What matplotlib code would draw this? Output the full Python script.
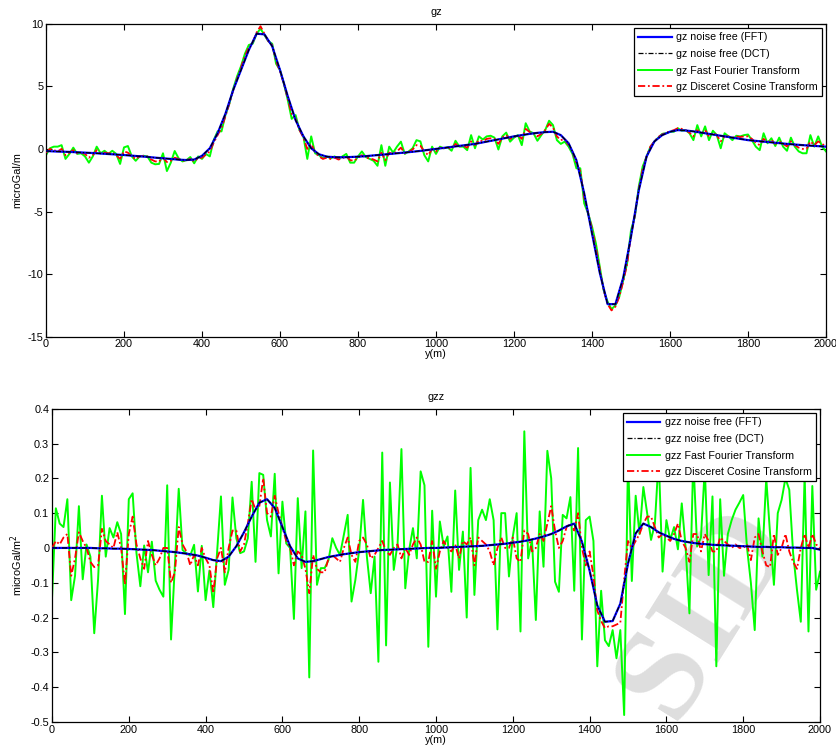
import numpy as np
import matplotlib
matplotlib.use("Agg")
import matplotlib.pyplot as plt
from matplotlib.lines import Line2D

plt.rcParams['font.family'] = ['Liberation Sans', 'DejaVu Sans']
plt.rcParams['axes.unicode_minus'] = False

# ---------------- data ----------------
y_fine = list(range(0, 2001, 10))     # noisy series sampling (m)
y_coarse = list(range(0, 2001, 20))   # noise-free series sampling (m)

gz_free = [
    -0.17, -0.2, -0.22, -0.24, -0.27, -0.3, -0.33, -0.37, -0.41, -0.45,
    -0.49, -0.54, -0.59, -0.64, -0.7, -0.75, -0.8, -0.86, -0.89, -0.85,
    -0.55, 0.05, 1.25, 2.8, 4.7, 6.3, 7.9, 9.2, 9.15, 8.2,
    6.3, 4.2, 2.3, 1.0, 0.05, -0.43, -0.62, -0.66, -0.67, -0.65,
    -0.62, -0.58, -0.52, -0.47, -0.41, -0.35, -0.29, -0.23, -0.16, -0.08,
    0.0, 0.08, 0.16, 0.24, 0.32, 0.4, 0.52, 0.64, 0.76, 0.88,
    1.0, 1.1, 1.2, 1.28, 1.34, 1.37, 1.1, 0.45, -0.9, -3.55,
    -6.75, -9.9, -12.4, -12.4, -10.3, -7.0, -3.3, -0.6, 0.6, 1.1,
    1.37, 1.5, 1.47, 1.4, 1.3, 1.2, 1.1, 1.0, 0.9, 0.8,
    0.7, 0.64, 0.58, 0.52, 0.46, 0.4, 0.35, 0.3, 0.26, 0.22,
    0.18]

gz_fft = [
    -0.5, 0.05, 0.18, 0.18, 0.3, -0.8, -0.4, 0.1, -0.4, -0.35,
    -0.6, -1.1, -0.6, 0.18, -0.35, -0.15, -0.4, -0.15, -0.4, -1.2,
    0.12, 0.23, -0.6, -0.95, -0.6, -0.55, -0.6, -1.1, -1.23, -1.2,
    -0.35, -1.77, -1.1, -0.17, -0.75, -1.0, -0.9, -0.65, -1.15, -0.6,
    -0.8, -0.4, -0.6, 0.7, 1.4, 1.4, 2.7, 3.6, 4.8, 5.8,
    6.6, 7.6, 8.3, 8.4, 9.2, 9.6, 9.1, 8.6, 8.4, 6.8,
    6.3, 5.2, 3.9, 2.4, 2.7, 1.5, 1.0, -0.8, 1.0, -0.35,
    -0.5, -0.75, -0.6, -0.75, -0.6, -0.8, -0.6, -0.4, -1.1, -1.1,
    -0.6, -0.2, -0.65, -0.8, -0.95, -1.35, 0.3, -1.35, 0.18, -0.3,
    0.18, 0.58, -0.4, -0.2, 0.05, 0.7, 0.6, -0.5, -1.0, 0.18,
    -0.4, 0.18, 0.05, 0.12, -0.15, 0.65, 0.18, 0.18, -0.1, 1.1,
    0.05, 1.0, 0.75, 1.0, 1.05, 0.9, -0.05, 1.0, 1.3, 0.58,
    0.9, 1.1, 0.3, 2.05, 1.4, 1.25, 0.65, 1.1, 1.5, 2.25,
    1.9, 0.7, 0.4, 0.58, 0.18, -0.4, -1.55, -1.55, -4.35, -5.15,
    -6.2, -7.55, -9.4, -11.3, -12.2, -12.8, -12.5, -11.8, -10.5, -9.15,
    -6.5, -5.4, -3.0, -1.4, -0.6, 0.18, 0.58, 0.9, 1.2, 1.25,
    1.37, 1.37, 1.65, 1.45, 1.5, 1.25, 0.7, 1.9, 1.0, 1.8,
    0.7, 1.45, 1.1, 0.05, 1.25, 1.0, 0.7, 1.05, 1.0, 1.1,
    1.15, 0.7, 0.18, -0.1, 1.25, 0.45, 0.85, 0.23, 0.9, 0.18,
    -0.15, 0.9, 0.18, -0.2, -0.35, -0.35, 1.1, 0.18, 1.0, 0.18,
    -0.2]

gz_dct = [
    -0.3, 0.0, -0.1, -0.2, 0.0, -0.5, -0.3, -0.1, -0.35, -0.3,
    -0.4, -0.7, -0.5, -0.1, -0.35, -0.3, -0.35, -0.3, -0.5, -0.8,
    -0.2, -0.3, -0.6, -0.8, -0.6, -0.55, -0.6, -0.85, -1.0, -1.0,
    -0.7, -1.05, -0.95, -0.7, -0.8, -0.95, -0.9, -0.8, -1.0, -0.75,
    -0.7, -0.45, -0.2, 0.5, 1.1, 1.7, 2.6, 3.6, 4.7, 5.6,
    6.5, 7.4, 8.1, 8.5, 9.3, 9.8, 9.2, 8.6, 8.3, 7.0,
    6.2, 5.2, 4.0, 2.8, 2.4, 1.5, 0.9, 0.0, 0.4, -0.3,
    -0.6, -0.8, -0.7, -0.8, -0.7, -0.85, -0.75, -0.6, -0.9, -0.95,
    -0.7, -0.5, -0.7, -0.75, -0.85, -1.0, -0.3, -0.9, -0.3, -0.4,
    -0.2, 0.1, -0.35, -0.25, -0.05, 0.3, 0.25, -0.2, -0.5, 0.0,
    -0.2, 0.1, 0.05, 0.1, 0.0, 0.4, 0.2, 0.25, 0.1, 0.6,
    0.3, 0.7, 0.6, 0.8, 0.85, 0.8, 0.4, 0.9, 1.1, 0.8,
    0.95, 1.1, 0.8, 1.6, 1.35, 1.25, 1.0, 1.2, 1.5, 2.0,
    1.7, 1.0, 0.7, 0.8, 0.3, -0.2, -1.2, -1.8, -3.9, -5.1,
    -6.4, -7.9, -9.6, -11.3, -12.4, -12.9, -12.6, -11.8, -10.6, -9.2,
    -6.9, -5.3, -3.2, -1.6, -0.6, 0.2, 0.6, 0.95, 1.15, 1.3,
    1.4, 1.5, 1.65, 1.6, 1.5, 1.3, 1.0, 1.5, 1.2, 1.5,
    1.0, 1.3, 1.1, 0.6, 1.0, 1.0, 0.9, 1.0, 0.95, 1.0,
    1.0, 0.8, 0.5, 0.3, 0.8, 0.55, 0.7, 0.4, 0.6, 0.4,
    0.2, 0.6, 0.3, 0.1, 0.0, 0.0, 0.6, 0.3, 0.6, 0.4,
    0.2]

gzz_free = [
    0.0, 0.0, 0.0, 0.0, 0.0, 0.0, -0.001, -0.001, -0.002, -0.002,
    -0.003, -0.004, -0.005, -0.006, -0.008, -0.01, -0.012, -0.015, -0.018, -0.022,
    -0.028, -0.035, -0.038, -0.025, 0.005, 0.045, 0.09, 0.13, 0.14, 0.115,
    0.06, 0.005, -0.03, -0.04, -0.038, -0.032, -0.026, -0.022, -0.018, -0.015,
    -0.012, -0.01, -0.008, -0.006, -0.005, -0.004, -0.003, -0.002, -0.001, 0.0,
    0.0, 0.001, 0.002, 0.003, 0.004, 0.005, 0.006, 0.008, 0.01, 0.012,
    0.015, 0.018, 0.022, 0.027, 0.033, 0.04, 0.05, 0.062, 0.07, 0.018,
    -0.065, -0.165, -0.212, -0.21, -0.16, -0.045, 0.042, 0.07, 0.06, 0.045,
    0.035, 0.026, 0.02, 0.016, 0.013, 0.011, 0.009, 0.008, 0.007, 0.006,
    0.005, 0.004, 0.003, 0.003, 0.002, 0.002, 0.001, 0.001, 0.0, 0.0,
    -0.005]

gzz_fft = [
    -0.145, 0.114, 0.07, 0.06, 0.14, -0.15, -0.08, 0.12, -0.09, 0.01,
    -0.025, -0.245, -0.09, 0.15, -0.025, 0.057, 0.03, 0.074, 0.04, -0.19,
    0.14, 0.157, -0.015, -0.11, 0.007, -0.07, 0.018, -0.094, -0.12, -0.14,
    0.18, -0.263, -0.05, 0.17, -0.006, -0.015, -0.022, 0.009, -0.125, 0.006,
    -0.15, -0.065, -0.17, -0.01, 0.148, -0.106, -0.063, 0.145, 0.028, -0.015,
    -0.01, 0.028, 0.19, -0.04, 0.215, 0.21, 0.08, 0.033, 0.213, -0.073,
    0.133, 0.013, 0.0, -0.204, 0.143, -0.058, 0.105, -0.372, 0.28, -0.106,
    -0.058, -0.058, -0.035, 0.028, 0.0, -0.02, 0.037, 0.095, -0.154, -0.092,
    -0.006, 0.138, -0.025, -0.13, -0.025, -0.327, 0.274, -0.28, 0.188, -0.063,
    0.013, 0.284, -0.116, -0.006, 0.057, -0.03, 0.22, 0.18, -0.284, 0.107,
    -0.14, 0.076, 0.004, 0.033, -0.126, 0.165, -0.063, 0.047, -0.2, 0.23,
    -0.135, 0.08, 0.11, 0.08, 0.14, 0.08, -0.234, 0.1, 0.1, -0.082,
    0.033, 0.1, -0.24, 0.335, -0.03, 0.023, -0.207, 0.105, -0.054, 0.279,
    0.2, -0.097, -0.126, 0.095, 0.085, 0.146, -0.123, 0.287, -0.263, 0.08,
    0.09, 0.02, -0.34, -0.123, -0.265, -0.282, -0.236, -0.317, -0.236, -0.48,
    0.26, -0.095, 0.15, 0.04, 0.175, 0.098, 0.023, 0.07, 0.26, -0.068,
    0.08, 0.023, 0.06, -0.004, 0.128, 0.002, -0.188, 0.26, 0.004, 0.03,
    0.23, -0.078, 0.148, -0.34, 0.14, -0.08, 0.04, 0.08, 0.11, 0.13,
    0.152, 0.0, -0.1, -0.236, 0.085, -0.025, 0.2, 0.04, -0.106, 0.1,
    0.138, 0.2, 0.167, -0.015, -0.12, -0.212, 0.21, -0.24, 0.178, -0.12,
    -0.068]

gzz_dct = [
    0.0, 0.02, 0.01, 0.03, 0.04, -0.08, -0.03, 0.045, 0.02, 0.0,
    -0.04, -0.055, -0.05, 0.055, 0.02, 0.01, 0.0, 0.045, 0.0, -0.105,
    0.04, 0.09, 0.01, -0.03, -0.06, 0.02, -0.02, -0.05, -0.03, 0.0,
    0.0, -0.1, -0.07, 0.06, 0.01, -0.01, -0.05, -0.02, -0.05, 0.0,
    -0.03, -0.05, -0.13, -0.03, 0.0, -0.07, 0.0, 0.05, 0.05, -0.01,
    0.01, 0.07, 0.14, 0.11, 0.12, 0.2, 0.1, 0.09, 0.15, 0.1,
    0.06, 0.02, 0.0, -0.05, -0.01, -0.02, -0.06, -0.13, -0.02, -0.06,
    -0.07, -0.07, -0.03, -0.02, -0.03, -0.04, 0.0, 0.03, -0.02, -0.04,
    0.02, 0.03, 0.01, -0.03, -0.02, 0.0, 0.02, -0.01, -0.02, 0.0,
    0.01, -0.03, 0.0, -0.02, 0.01, 0.03, 0.01, -0.04, -0.04, 0.02,
    -0.06, -0.01, 0.02, 0.0, -0.01, 0.01, -0.03, 0.02, 0.01, 0.03,
    -0.05, 0.03, 0.02, 0.01, -0.01, -0.05, 0.0, 0.03, 0.0, 0.0,
    0.03, -0.03, -0.04, 0.05, 0.04, -0.01, 0.0, 0.04, 0.02, 0.07,
    0.12, 0.05, 0.0, 0.02, 0.06, 0.07, 0.05, 0.1, 0.0, -0.05,
    -0.01, -0.08, -0.18, -0.21, -0.23, -0.225, -0.225, -0.22, -0.215, -0.09,
    0.02, 0.0, 0.02, 0.04, 0.07, 0.09, 0.09, 0.06, 0.03, 0.04,
    0.03, 0.02, 0.04, 0.07, 0.02, 0.0, -0.04, 0.04, 0.04, -0.01,
    0.04, 0.02, -0.01, -0.01, 0.03, 0.02, 0.01, 0.0, 0.01, 0.0,
    0.0, 0.01, -0.035, 0.03, 0.04, -0.01, -0.05, -0.055, 0.04, -0.02,
    0.0, 0.04, -0.01, -0.04, -0.06, 0.0, 0.04, 0.0, 0.04, 0.01,
    0.0]

gz_labels = ['gz noise free (FFT)', 'gz noise free (DCT)',
             'gz Fast Fourier Transform', 'gz Disceret Cosine Transform']
gzz_labels = ['gzz noise free (FFT)', 'gzz noise free (DCT)',
              'gzz Fast Fourier Transform', 'gzz Disceret Cosine Transform']
x_ticks = [0, 200, 400, 600, 800, 1000, 1200, 1400, 1600, 1800, 2000]
gz_ticks = [-15, -10, -5, 0, 5, 10]
gzz_ticks = [-0.5, -0.4, -0.3, -0.2, -0.1, 0.0, 0.1, 0.2, 0.3, 0.4]
gzz_ticklabels = ['-0.5', '-0.4', '-0.3', '-0.2', '-0.1', '0', '0.1', '0.2', '0.3', '0.4']

# ---------------- figure ----------------
W, H = 837, 752
fig = plt.figure(figsize=(W / 100, H / 100), dpi=100)
ax1 = fig.add_axes([46 / W, 1 - 336.7 / H, 780 / W, 313 / H])
ax2 = fig.add_axes([52 / W, 1 - 722 / H, 768 / W, 313.3 / H])

FS = 7.8
LFS = 7.7
C_BLUE, C_GREEN, C_RED = '#0000ff', '#00ff00', '#ff0000'
DASHDOT = (0, (4, 1.5, 1, 1.5))


def draw(ax, free, fft, dct, labels, title, ylabel, yticks, ylim, yticklabels=None):
    ax.plot(y_fine, fft, color=C_GREEN, lw=1.4, zorder=2)
    ax.plot(y_fine, dct, color=C_RED, lw=1.3, ls=DASHDOT, zorder=3)
    ax.plot(y_coarse, free, color=C_BLUE, lw=1.6, zorder=4)
    ax.plot(y_coarse, free, color='black', lw=0.9, ls=DASHDOT, zorder=5)
    ax.set_xlim(0, 2000)
    ax.set_ylim(*ylim)
    ax.set_xticks(x_ticks)
    ax.set_yticks(yticks)
    if yticklabels is not None:
        ax.set_yticklabels(yticklabels)
    ax.tick_params(direction='in', top=True, right=True, length=4, width=0.8,
                   labelsize=FS, pad=2)
    for s in ax.spines.values():
        s.set_linewidth(0.9)
    ax.set_title(title, fontsize=FS, pad=6)
    ax.set_xlabel('y(m)', fontsize=FS, labelpad=0)
    ax.set_ylabel(ylabel, fontsize=FS, labelpad=4)
    handles = [Line2D([], [], color=C_BLUE, lw=1.6),
               Line2D([], [], color='black', lw=0.9, ls=DASHDOT),
               Line2D([], [], color=C_GREEN, lw=1.4),
               Line2D([], [], color=C_RED, lw=1.3, ls=DASHDOT)]
    leg = ax.legend(handles, labels, loc='upper right', fontsize=LFS,
                    fancybox=False, edgecolor='black', framealpha=1,
                    handlelength=3.1, handletextpad=0.4, labelspacing=0.62,
                    borderaxespad=0.4, borderpad=0.4)
    leg.get_frame().set_linewidth(0.9)
    leg.set_zorder(10)


draw(ax1, gz_free, gz_fft, gz_dct, gz_labels, 'gz', 'microGal/m',
     gz_ticks, (-15, 10))
draw(ax2, gzz_free, gzz_fft, gzz_dct, gzz_labels, 'gzz', r'microGal/m$^2$',
     gzz_ticks, (-0.5, 0.4), gzz_ticklabels)

# faint watermark
ax2.text(706 / W, 1 - 612 / H, 'SID', transform=fig.transFigure,
         fontsize=95, family=['Liberation Serif', 'DejaVu Serif'],
         weight='bold', color='#dedede', rotation=58, ha='center', va='center',
         clip_on=False, zorder=1)

fig.savefig('out.png', dpi=100)
